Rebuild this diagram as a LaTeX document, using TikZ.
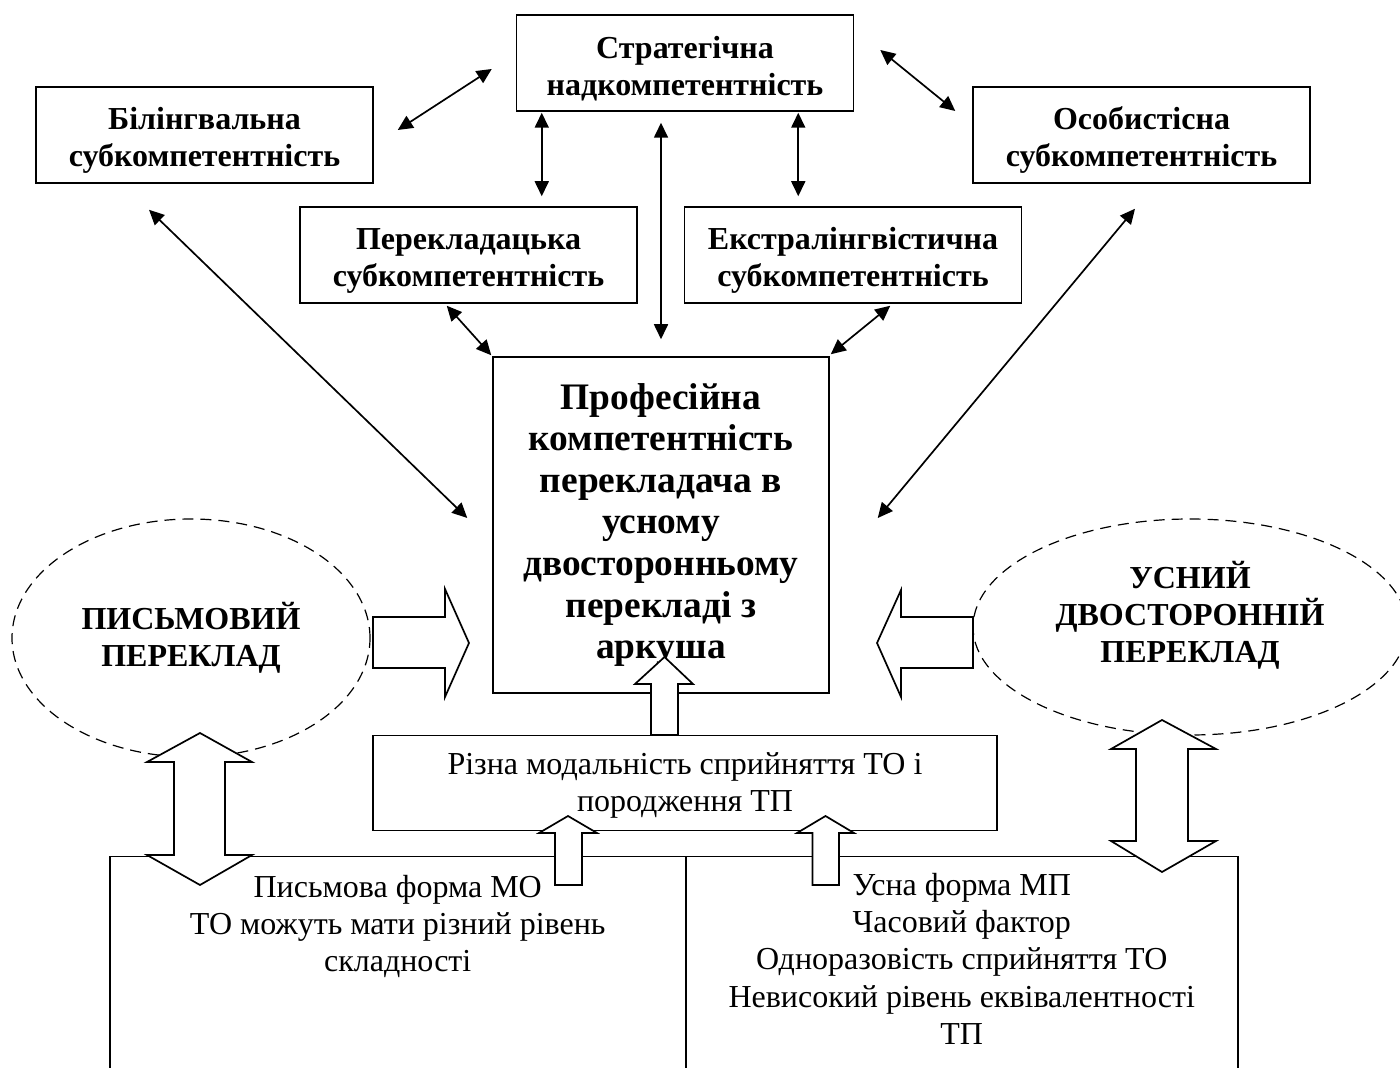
\documentclass[tikz,border=0pt]{standalone}
\usepackage{fontspec}
\setmainfont{Liberation Serif}
\usetikzlibrary{arrows.meta,calc,shapes.geometric}
\newcommand{\BoxStrut}[1]{\rule{0pt}{#1}}

\begin{document}
\begin{tikzpicture}[x=0.5pt,y=-0.5pt,
  SubBox/.style={draw,line width=0.75pt,minimum width=168.5pt,minimum height=48pt,
    align=center,font=\fontsize{16}{18.5}\selectfont\bfseries},
  MainBox/.style={draw,line width=0.75pt,minimum width=168pt,minimum height=168pt,
    align=center,font=\fontsize{18.7}{20.8}\selectfont\bfseries},
  ModBox/.style={draw,line width=0.75pt,minimum width=312pt,minimum height=47.5pt,
    align=center,font=\fontsize{16}{18.5}\selectfont},
  LowBox/.style={draw,line width=0.75pt,minimum height=120pt,inner sep=0pt},
  LowTxt/.style={align=center,inner sep=0pt,font=\fontsize{16}{18.7}\selectfont},
  DashOval/.style={ellipse,draw,line width=0.6pt,dash pattern=on 5.5pt off 3.5pt,
    align=center,font=\fontsize{16}{18.5}\selectfont\bfseries},
  OvalTxt/.style={align=center,font=\fontsize{16}{18.5}\selectfont\bfseries},
  TwoWay/.style={{Triangle[length=7.5pt,width=7pt]}-{Triangle[length=7.5pt,width=7pt]},
    line width=0.85pt},
  FatArrow/.style={draw,fill=white,line width=0.85pt,line join=miter}]

\useasboundingbox (0,0) rectangle (1400,1068);

% boxes
\node[SubBox] (strat) at (685,63) {\BoxStrut{16.5pt}Стратегічна\\надкомпетентність};
\node[SubBox] (bil) at (204.5,135) {\BoxStrut{16.5pt}Білінгвальна\\субкомпетентність};
\node[SubBox] (pers) at (1141.5,135) {\BoxStrut{16.5pt}Особистісна\\субкомпетентність};
\node[SubBox] (trans) at (468.5,255) {\BoxStrut{16.5pt}Перекладацька\\субкомпетентність};
\node[SubBox] (extra) at (853,255) {\BoxStrut{16.5pt}Екстралінгвістична\\субкомпетентність};

\node[MainBox] (prof) at (661,525) {Професійна\\компетентність\\перекладача в\\усному\\двосторонньому\\перекладі з\\аркуша};

\node[ModBox] (modal) at (685,783) {\BoxStrut{13.5pt}Різна модальність сприйняття ТО і\\породження ТП};

% ovals
\node[DashOval,minimum width=179pt,minimum height=119pt] (written) at (191,638) {ПИСЬМОВИЙ\\ПЕРЕКЛАД};
\node[DashOval,minimum width=217pt,minimum height=108pt] (oral) at (1190,627) {};
\node[OvalTxt] (oralTxt) at ($(oral.center)+(0,-12)$) {УСНИЙ\\ДВОСТОРОННІЙ\\ПЕРЕКЛАД};

% lower boxes
\node[LowBox,minimum width=288pt,anchor=north west] (writtenBox) at (109,855.5) {};
\node[LowBox,minimum width=276pt,anchor=north west] (oralBox) at (685,855.5) {};
\node[LowTxt,anchor=north] (writtenList) at ($(writtenBox.north)+(0,19)$) {Письмова форма МО\\ТО можуть мати різний рівень\\складності};
\node[LowTxt,anchor=north] (oralList) at ($(oralBox.north)+(0,17)$) {Усна форма МП\\Часовий фактор\\Одноразовість сприйняття ТО\\Невисокий рівень еквівалентності\\ТП};

% two-way links
\coordinate (sl) at ($(strat.south west)+(26,1)$);
\coordinate (sr) at ($(strat.south east)+(-56,1)$);
\draw[TwoWay] ($(bil.east)+(24,-5)$) -- ($(strat.west)+(-24,6)$);
\draw[TwoWay] ($(strat.east)+(26,-13)$) -- ($(pers.west)+(-17,-24)$);
\draw[TwoWay,shorten >=5pt] (sl) -- (sl |- trans.north);
\draw[TwoWay,shorten >=5pt] (sr) -- (sr |- extra.north);
\draw[TwoWay,shorten <=5.5pt,shorten >=8.5pt] (prof.north |- strat.south) -- (prof.north);
\draw[TwoWay] ($(trans.south east)+(-191,2)$) -- ($(prof.north west)+(-1,-1)$);
\draw[TwoWay] ($(extra.south east)+(-132,2)$) -- ($(prof.north east)+(1,-2)$);
\draw[TwoWay] ($(bil.south)+(-55.5,26)$) -- ($(prof.west)+(-25,-7)$);
\draw[TwoWay] ($(pers.south)+(-6.5,25)$) -- ($(prof.east)+(48,-7)$);

% block arrows
\draw[FatArrow] (373,617) -- (445,617) -- (445,589) -- (469,643) -- (445,697) -- (445,668) -- (373,668) -- cycle;
\draw[FatArrow] (973,617) -- (901,617) -- (901,590) -- (877,643) -- (901,697) -- (901,668) -- (973,668) -- cycle;
\draw[FatArrow] (651,735) -- (651,684) -- (635,684) -- (664.5,657) -- (693,684) -- (678,684) -- (678,735) -- cycle;
\draw[FatArrow] (555,885) -- (555,833) -- (539,833) -- (568,816) -- (597,833) -- (582,833) -- (582,885) -- cycle;
\draw[FatArrow] (812.5,885) -- (812.5,833) -- (797,833) -- (825.5,816) -- (854,833) -- (839,833) -- (839,885) -- cycle;
\draw[FatArrow] (174,762) -- (147,762) -- (200,733) -- (252,762) -- (225,762) -- (225,855) -- (252,855) -- (200,885) -- (147,855) -- (174,855) -- cycle;
\draw[FatArrow] (1136,749) -- (1111,749) -- (1162,720) -- (1216,749) -- (1188,749) -- (1188,841) -- (1216,841) -- (1162,872) -- (1111,841) -- (1136,841) -- cycle;

\end{tikzpicture}
\end{document}
